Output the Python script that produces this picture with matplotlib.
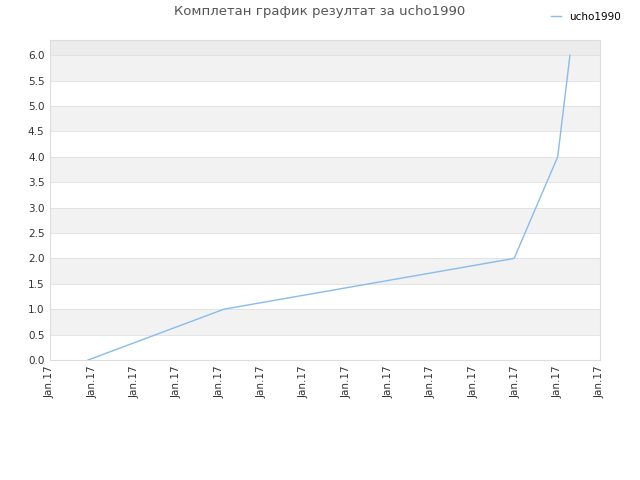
import matplotlib
matplotlib.use("Agg")
import matplotlib.pyplot as plt

x_vals = [0.9, 4.11, 10.97, 12.0, 12.29]
y_vals = [0, 1, 2, 4, 6]
tick_labels = ["Jan.17"] * 14
title = "Комплетан график резултат за ucho1990"

fig = plt.figure(figsize=(6.4, 4.8), dpi=100)
ax = fig.add_axes([50/640, 1-360/480, 550/640, 320/480])
ax.set_xlim(0, 13)
ax.set_ylim(0, 6.3)
for k in range(6):
    lo = 0.5 + k
    ax.axhspan(lo, lo + 0.5, color="#f2f2f2", zorder=0, lw=0)
ax.axhspan(6.0, 6.3, color="#ececec", zorder=0, lw=0)
for yv in [i * 0.5 for i in range(13)]:
    ax.axhline(yv, color="#e0e0e0", lw=0.6, zorder=1)
ax.plot(x_vals, y_vals, color="#88bbee", lw=1, label="ucho1990", zorder=3)
ax.set_yticks([i * 0.5 for i in range(13)])
ax.set_yticklabels([f"{i*0.5:.1f}" for i in range(13)], fontsize=7.5, color="#333333")
ax.set_xticks(range(14))
ax.set_xticklabels(tick_labels, rotation=90, fontsize=7.5, color="#333333")
for s in ax.spines.values():
    s.set_color("#dddddd")
ax.tick_params(length=0, pad=4)
fig.text(0.5, 1-12/480, title, ha="center", va="center", fontsize=9.5, color="#555555")
fig.legend(loc="upper right", bbox_to_anchor=(0.985, 0.995), frameon=False,
           fontsize=7.5, handlelength=1.0)
fig.savefig("out.png", dpi=100)
